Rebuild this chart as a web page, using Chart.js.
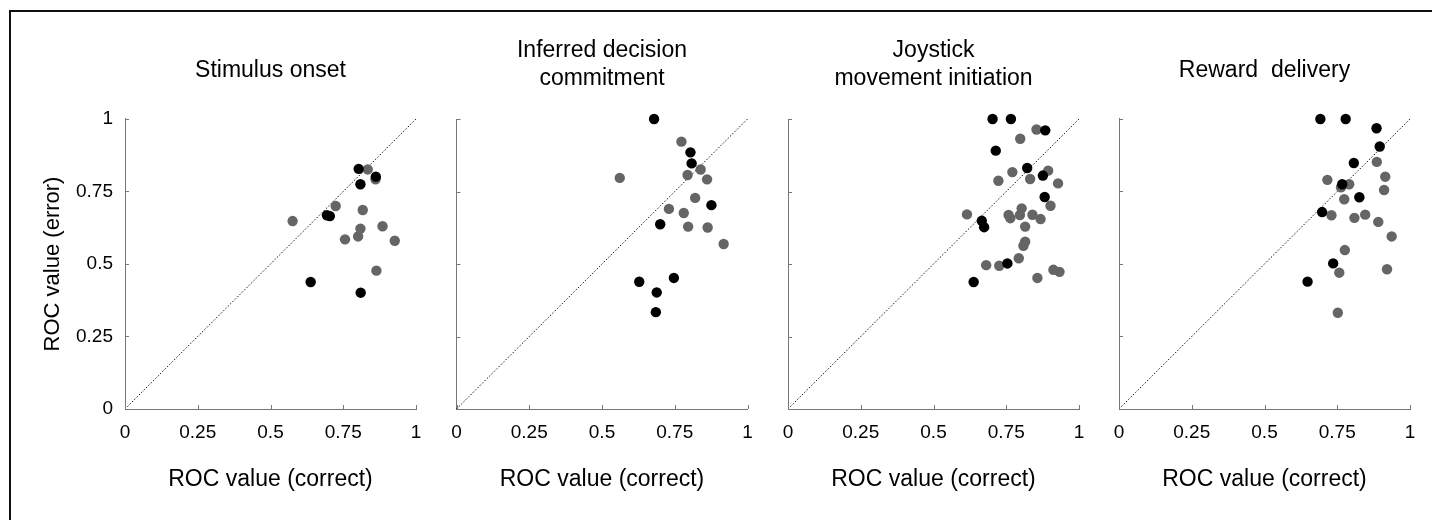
<!DOCTYPE html>
<html>
<head>
<meta charset="utf-8">
<title>ROC value correct vs error</title>
<script src="https://cdn.jsdelivr.net/npm/chart.js@4.4.1/dist/chart.umd.min.js"></script>
<style>
  body { margin: 0; background: #fff; }
  #wrap { position: relative; width: 1432px; height: 520px; overflow: hidden; }
  #frame { position: absolute; left: 9px; top: 10px; width: 1440px; height: 530px;
           border-top: 2px solid #111; border-left: 2px solid #111; }
  canvas { position: absolute; left: 0; top: 0; }
</style>
</head>
<body>
<div id="wrap">
  <div id="frame"></div>
  <canvas id="p0" width="1432" height="520"></canvas>
  <canvas id="p1" width="1432" height="520"></canvas>
  <canvas id="p2" width="1432" height="520"></canvas>
  <canvas id="p3" width="1432" height="520"></canvas>
</div>
<script>
//! Data

const panelTitles = [
  "Stimulus onset",
  ["Inferred decision", "commitment"],
  ["Joystick", "movement initiation"],
  "Reward  delivery",
];

const tickValues = [0, 0.25, 0.5, 0.75, 1];
const tickLabels = ["0", "0.25", "0.5", "0.75", "1"];
const diagonal = [0, 1];

// [ROC correct, ROC error]
const onsetGray = [
  [0.834, 0.826], [0.861, 0.792], [0.724, 0.700], [0.817, 0.686], [0.576, 0.648],
  [0.809, 0.622], [0.885, 0.630], [0.801, 0.595], [0.756, 0.585], [0.927, 0.580],
  [0.864, 0.477],
];
const onsetBlack = [
  [0.803, 0.828], [0.862, 0.801], [0.809, 0.775], [0.694, 0.668], [0.704, 0.665],
  [0.638, 0.438], [0.810, 0.401],
];

const decisionGray = [
  [0.773, 0.922], [0.839, 0.826], [0.794, 0.807], [0.861, 0.792], [0.561, 0.797],
  [0.820, 0.728], [0.730, 0.690], [0.781, 0.676], [0.796, 0.629], [0.863, 0.626],
  [0.918, 0.569],
];
const decisionBlack = [
  [0.679, 1.0], [0.804, 0.885], [0.808, 0.847], [0.876, 0.703], [0.700, 0.637],
  [0.747, 0.452], [0.628, 0.439], [0.688, 0.402], [0.685, 0.334],
];

const movementGray = [
  [0.854, 0.964], [0.798, 0.932], [0.771, 0.817], [0.894, 0.822], [0.832, 0.793],
  [0.723, 0.787], [0.928, 0.778], [0.902, 0.701], [0.615, 0.671], [0.803, 0.692],
  [0.797, 0.669], [0.758, 0.669], [0.764, 0.658], [0.840, 0.670], [0.868, 0.655],
  [0.815, 0.629], [0.815, 0.577], [0.809, 0.563], [0.793, 0.520], [0.726, 0.494],
  [0.681, 0.496], [0.912, 0.480], [0.933, 0.473], [0.857, 0.452],
];
const movementBlack = [
  [0.703, 1.0], [0.766, 1.0], [0.884, 0.961], [0.714, 0.891], [0.822, 0.831],
  [0.876, 0.805], [0.882, 0.731], [0.666, 0.649], [0.674, 0.627], [0.754, 0.502],
  [0.638, 0.438],
];

const rewardGray = [
  [0.886, 0.852], [0.915, 0.801], [0.716, 0.790], [0.791, 0.775], [0.763, 0.764],
  [0.911, 0.755], [0.774, 0.723], [0.730, 0.668], [0.846, 0.670], [0.809, 0.659],
  [0.891, 0.645], [0.937, 0.595], [0.776, 0.548], [0.757, 0.470], [0.921, 0.482],
  [0.752, 0.332],
];
const rewardBlack = [
  [0.692, 1.0], [0.779, 1.0], [0.885, 0.968], [0.896, 0.905], [0.807, 0.848],
  [0.767, 0.775], [0.826, 0.730], [0.698, 0.679], [0.736, 0.502], [0.648, 0.439],
];

//! Layout

const axisLeft = [125, 456.5, 788, 1119];
const axisSize = 291;

Chart.defaults.font.family = "'Liberation Sans', Arial, sans-serif";
Chart.defaults.color = "#000";

const toPoints = (arr) => arr.map((p) => ({ x: p[0], y: p[1] }));

// small ticks pointing into the plot, like the original figure
const inwardTicks = {
  id: "inwardTicks",
  afterDraw(chart) {
    const { ctx, chartArea } = chart;
    const { x, y } = chart.scales;
    ctx.save();
    ctx.strokeStyle = "#777";
    ctx.lineWidth = 1;
    ctx.beginPath();
    tickValues.forEach((v) => {
      const px = Math.round(x.getPixelForValue(v)) + 0.5;
      ctx.moveTo(px, chartArea.bottom);
      ctx.lineTo(px, chartArea.bottom - 4);
      const py = Math.round(y.getPixelForValue(v)) + 0.5;
      ctx.moveTo(chartArea.left, py);
      ctx.lineTo(chartArea.left + 4, py);
    });
    ctx.stroke();
    ctx.restore();
  },
};

function makePanel(i, gray, black) {
  const x0 = axisLeft[i];
  const first = i === 0;
  const yW = first ? 95 : 8;
  const twoLines = Array.isArray(panelTitles[i]);

  new Chart(document.getElementById("p" + i), {
    type: "scatter",
    data: {
      datasets: [
        {
          data: toPoints(black),
          backgroundColor: "#000",
          pointRadius: 5.2,
          borderWidth: 0,
          clip: false,
        },
        {
          data: toPoints(gray),
          backgroundColor: "#656565",
          pointRadius: 5.2,
          borderWidth: 0,
          clip: false,
        },
        {
          type: "line",
          data: diagonal.map((v) => ({ x: v, y: v })),
          borderColor: "#111",
          borderWidth: 1,
          borderDash: [1.5, 1.8],
          pointRadius: 0,
          fill: false,
          clip: false,
        },
      ],
    },
    options: {
      responsive: false,
      animation: false,
      devicePixelRatio: 1,
      events: [],
      layout: {
        padding: { left: x0 - yW, right: 1432 - (x0 + axisSize), top: 0, bottom: 21 },
      },
      plugins: {
        legend: { display: false },
        tooltip: { enabled: false },
        title: {
          display: true,
          text: panelTitles[i],
          fullSize: false,
          color: "#000",
          font: { size: 23, lineHeight: 1.22, weight: "normal" },
          padding: twoLines ? { top: 37, bottom: 25.9 } : { top: 57, bottom: 33.9 },
        },
      },
      scales: {
        x: {
          type: "linear",
          min: 0,
          max: 1,
          afterBuildTicks: (s) => { s.ticks = tickValues.map((v) => ({ value: v })); },
          afterFit: (s) => { s.height = 90; },
          grid: { display: false, drawTicks: false },
          border: { display: true, color: "#777", width: 1 },
          ticks: {
            font: { size: 19 },
            padding: 12,
            maxRotation: 0,
            autoSkip: false,
            callback: (v, idx) => tickLabels[idx],
          },
          title: {
            display: true,
            text: "ROC value (correct)",
            font: { size: 23 },
            padding: { top: 0, bottom: 6 },
          },
        },
        y: {
          type: "linear",
          min: 0,
          max: 1,
          afterBuildTicks: (s) => { s.ticks = tickValues.map((v) => ({ value: v })); },
          afterFit: (s) => { s.width = yW; },
          grid: { display: false, drawTicks: false },
          border: { display: true, color: "#777", width: 1 },
          ticks: {
            display: first,
            font: { size: 19 },
            padding: 12,
            autoSkip: false,
            callback: (v, idx) => tickLabels[idx],
          },
          title: {
            display: first,
            text: "ROC value (error)",
            font: { size: 22 },
            padding: { top: 10, bottom: 0 },
          },
        },
      },
    },
    plugins: [inwardTicks],
  });
}

makePanel(0, onsetGray, onsetBlack);
makePanel(1, decisionGray, decisionBlack);
makePanel(2, movementGray, movementBlack);
makePanel(3, rewardGray, rewardBlack);
</script>
</body>
</html>
